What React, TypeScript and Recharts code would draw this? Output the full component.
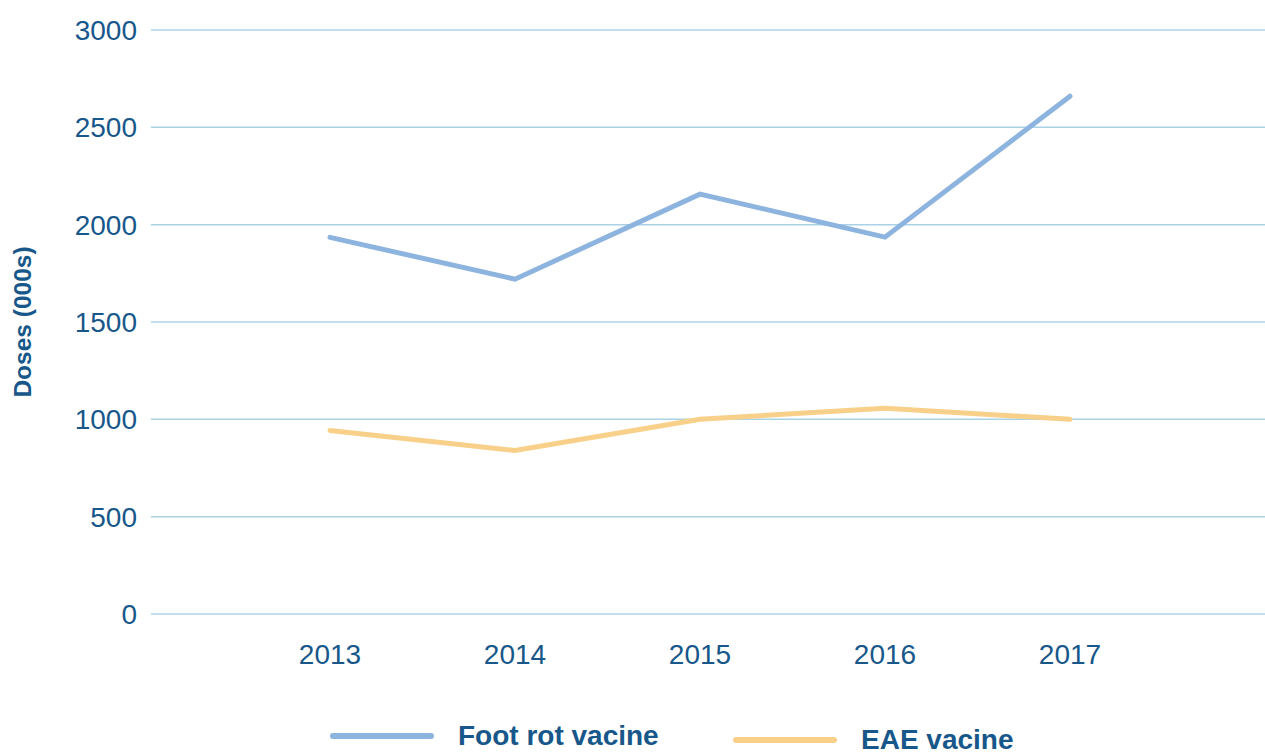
import React from 'react';
import { LineChart, Line, XAxis, YAxis, CartesianGrid, Legend } from 'recharts';

const years = ['2013', '2014', '2015', '2016', '2017'];
const footRot = [1935, 1720, 2157, 1936, 2660];
const eae = [943, 840, 1000, 1057, 1000];
const yTicks = [0, 500, 1000, 1500, 2000, 2500, 3000];
const seriesOrder = ['footRot', 'eae'];

const data = years.map((y, i) => ({ year: y, footRot: footRot[i], eae: eae[i] }));

const TEXT = '#17578A';
const FONT = 'Liberation Sans, Arial, Helvetica, sans-serif';
const BLUE = '#8DB4DF';
const GOLD = '#F9D08A';

const renderLegend = (props: any) => {
  const payload = [...(props.payload || [])].sort(
    (a: any, b: any) => seriesOrder.indexOf(a.dataKey) - seriesOrder.indexOf(b.dataKey)
  );
  const offsets = [0, 4];
  const starts = [330, 733];
  return (
    <div style={{ position: 'relative', width: 1265, height: 0, overflow: 'visible' }}>
      {payload.map((p: any, i: number) => (
        <div
          key={p.value}
          style={{
            position: 'absolute',
            left: starts[i],
            top: offsets[i],
            display: 'flex',
            alignItems: 'center',
            fontFamily: FONT,
            fontWeight: 'bold',
            fontSize: 28,
            lineHeight: '28px',
            color: TEXT,
            whiteSpace: 'nowrap',
          }}
        >
          <svg width={104} height={10} style={{ marginRight: 24 }}>
            <line x1={3} y1={5} x2={101} y2={5} stroke={p.color} strokeWidth={6} strokeLinecap="round" />
          </svg>
          <span>{p.value}</span>
        </div>
      ))}
    </div>
  );
};

const YLabel = (props: any) => {
  const { viewBox } = props;
  const cy = viewBox.y + viewBox.height / 2;
  return (
    <text
      x={22}
      y={cy}
      transform={`rotate(-90, 22, ${cy})`}
      textAnchor="middle"
      dominantBaseline="central"
      fill={TEXT}
      fontFamily={FONT}
      fontWeight="bold"
      fontSize={24.5}
    >
      Doses (000s)
    </text>
  );
};

export default function App() {
  return (
    <div style={{ position: 'absolute', left: 0, top: 0, width: 1265, height: 754, background: '#fff', overflow: 'hidden' }}>
      <LineChart width={1265} height={754} data={data} margin={{ top: 30, right: 0, bottom: 0, left: 0 }}>
        <CartesianGrid vertical={false} stroke="#A9D2E7" strokeWidth={1.5} />
        <XAxis
          dataKey="year"
          axisLine={false}
          tickLine={false}
          height={140}
          tickMargin={24}
          padding={{ left: 179, right: 195 }}
          tick={{ fill: TEXT, fontSize: 28, fontFamily: FONT }}
        />
        <YAxis
          domain={[0, 3000]}
          ticks={yTicks}
          axisLine={false}
          tickLine={false}
          width={151}
          tickMargin={8}
          tick={{ fill: TEXT, fontSize: 28, fontFamily: FONT }}
          label={<YLabel />}
        />
        <Legend
          verticalAlign="bottom"
          content={renderLegend}
          wrapperStyle={{ position: 'absolute', left: 0, top: 722, width: 1265, height: 0 }}
        />
        <Line dataKey="footRot" name="Foot rot vacine" stroke={BLUE} strokeWidth={5} dot={false} activeDot={false} isAnimationActive={false} strokeLinecap="round" />
        <Line dataKey="eae" name="EAE vacine" stroke={GOLD} strokeWidth={5} dot={false} activeDot={false} isAnimationActive={false} strokeLinecap="round" />
      </LineChart>
    </div>
  );
}
